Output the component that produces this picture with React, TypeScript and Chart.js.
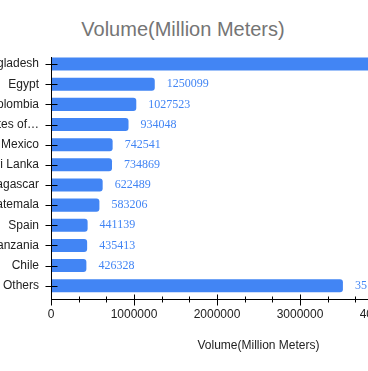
import React, { useEffect, useRef } from "react";
import { Chart, registerables } from "chart.js";

Chart.register(...registerables);

const chartTitle = "Volume(Million Meters)";
const axisTitle = "Volume(Million Meters)";
const countries = [
  "Bangladesh",
  "Egypt",
  "Colombia",
  "United States of America",
  "Mexico",
  "Sri Lanka",
  "Madagascar",
  "Guatemala",
  "Spain",
  "Tanzania",
  "Chile",
  "Others",
];
const volumes = [
  4410000, 1250099, 1027523, 934048, 742541, 734869, 622489, 583206, 441139,
  435413, 426328, 3517000,
];
const xMax = 5000000;
const majorStep = 1000000;
const minorPerMajor = 3;

const BLUE = "#4285F4";
const SANS = "Arial, 'Liberation Sans', Helvetica, sans-serif";
const SERIF = "'Liberation Serif', 'Times New Roman', Times, serif";

const truncate = (s: string, n: number) => (s.length > n ? s.slice(0, n) + "\u2026" : s);

const axesPlugin = {
  id: "customAxes",
  afterDatasetsDraw(chart: any) {
    const { ctx, chartArea } = chart;
    const xs = chart.scales.x;
    const ys = chart.scales.y;
    const axisY = Math.round(chartArea.bottom + 3) + 0.5;
    const axisX = Math.round(chartArea.left) + 0.5;
    ctx.save();
    ctx.strokeStyle = "#000";
    ctx.lineWidth = 1;
    ctx.beginPath();
    ctx.moveTo(axisX, Math.round(chartArea.top) + 3);
    ctx.lineTo(axisX, axisY + 5);
    ctx.moveTo(axisX, axisY);
    ctx.lineTo(chartArea.right, axisY);
    ys.ticks.forEach((_t: any, i: number) => {
      const y = Math.round(ys.getPixelForTick(i)) + 0.5;
      ctx.moveTo(axisX - 6, y);
      ctx.lineTo(axisX + 6, y);
    });
    xs.ticks.forEach((t: any, i: number) => {
      const x = Math.round(xs.getPixelForValue(t.value)) + 0.5;
      const major = i % minorPerMajor === 0;
      ctx.moveTo(x, axisY - (major ? 5 : 3));
      ctx.lineTo(x, axisY + (major ? 6 : 3));
    });
    ctx.stroke();
    ctx.restore();
  },
};

const labelPlugin = {
  id: "valueLabels",
  afterDatasetsDraw(chart: any) {
    const { ctx } = chart;
    const meta = chart.getDatasetMeta(0);
    const data = chart.data.datasets[0].data as number[];
    ctx.save();
    ctx.font = `12px ${SERIF}`;
    ctx.fillStyle = BLUE;
    ctx.textAlign = "left";
    ctx.textBaseline = "middle";
    meta.data.forEach((bar: any, i: number) => {
      ctx.fillText(String(data[i]), bar.x + 12, bar.y);
    });
    ctx.restore();
  },
};

export default function App() {
  const ref = useRef<HTMLCanvasElement>(null);

  useEffect(() => {
    if (!ref.current) return;
    const chart = new Chart(ref.current, {
      type: "bar",
      data: {
        labels: countries,
        datasets: [
          {
            data: volumes,
            backgroundColor: BLUE,
            borderRadius: 3,
            borderSkipped: "start",
            categoryPercentage: 1,
            barPercentage: 0.65,
          },
        ],
      },
      options: {
        indexAxis: "y",
        animation: false,
        responsive: false,
        layout: { padding: { top: 54, bottom: 17.7, left: 0, right: 45 } },
        plugins: {
          legend: { display: false },
          title: { display: false },
          tooltip: { enabled: false },
        },
        scales: {
          y: {
            grid: { display: false, drawTicks: false },
            border: { display: false },
            afterFit: (s: any) => {
              s.width = 100;
            },
            ticks: {
              autoSkip: false,
              padding: 12,
              color: "#222",
              font: { size: 12, family: SANS },
              callback: function (this: any, _v: any, i: number) {
                return truncate(countries[i], 16);
              },
            },
          },
          x: {
            min: 0,
            max: xMax,
            grid: { display: false, drawTicks: false },
            border: { display: false },
            afterBuildTicks: (s: any) => {
              const ticks = [];
              const step = majorStep / minorPerMajor;
              for (let i = 0; i * step <= xMax + 1; i++) ticks.push({ value: i * step });
              s.ticks = ticks;
            },
            afterFit: (s: any) => {
              s.height = 57.5;
            },
            ticks: {
              autoSkip: false,
              maxRotation: 0,
              minRotation: 0,
              padding: 12,
              color: "#222",
              font: { size: 12, family: SANS },
              callback: (v: any, i: number) =>
                i % minorPerMajor === 0 ? String(Math.round(Number(v))) : "",
            },
            title: {
              display: true,
              text: axisTitle,
              color: "#222",
              font: { size: 12, family: SANS },
              padding: { top: 0, bottom: 0 },
            },
          },
        },
      },
      plugins: [axesPlugin, labelPlugin],
    });
    return () => chart.destroy();
  }, []);

  return (
    <div
      style={{
        position: "fixed",
        left: 0,
        top: 0,
        width: 368,
        height: 371,
        overflow: "hidden",
        background: "#fff",
      }}
    >
      <div
        style={{
          position: "absolute",
          left: -1,
          top: 19,
          width: 368,
          textAlign: "center",
          font: `20px ${SANS}`,
          lineHeight: "20px",
          color: "#757575",
        }}
      >
        {chartTitle}
      </div>
      <canvas
        ref={ref}
        width={560}
        height={371}
        style={{ position: "absolute", left: -49, top: 0 }}
      />
    </div>
  );
}
